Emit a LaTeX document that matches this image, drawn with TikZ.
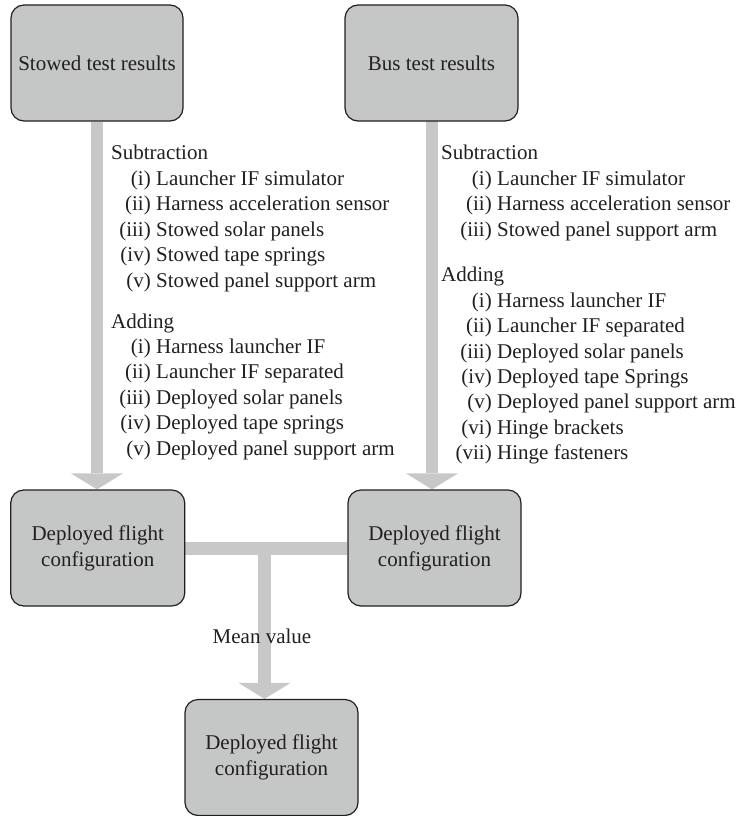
\documentclass[tikz,border=0pt]{standalone}
\usepackage{fontspec}
\setmainfont{Liberation Serif}
\usetikzlibrary{arrows.meta,backgrounds}
\definecolor{boxfill}{RGB}{197,199,198}
\definecolor{stemgray}{RGB}{200,200,200}
\definecolor{edgec}{RGB}{35,31,32}
\newcommand\litem[6]{%
  \node[lab] (#1l) at (#2,#4) {#5};
  \node[txt] (#1t) at (#3,#4) {#6};}
\begin{document}
\begin{tikzpicture}[x=1pt,y=-1pt,
  box/.style={draw=edgec, line width=1.2pt, fill=boxfill, rounded corners=13pt,
    minimum height=116pt, align=center, inner sep=0pt,
    font=\fontsize{21}{26}\selectfont, text=edgec},
  flow/.style={draw=stemgray, line width=12pt,
    -{Triangle[width=52pt,length=16pt,line width=0pt]}},
  txt/.style={inner sep=0pt, anchor=base west, font=\fontsize{21}{25}\selectfont, text=edgec},
  lab/.style={inner sep=0pt, anchor=base east, font=\fontsize{21}{25}\selectfont, text=edgec}]
\useasboundingbox (0,0) rectangle (741,816);

% boxes
\node[box, minimum width=172pt] (stowed) at (97,63) {Stowed test results};
\node[box, minimum width=173pt] (bus) at (431.5,63) {Bus test results};
\node[box, minimum width=174pt] (dep1) at (97.75,548) {Deployed flight\\configuration};
\node[box, minimum width=173pt] (dep2) at (434.5,548) {Deployed flight\\configuration};
\node[box, minimum width=173pt] (dep3) at (271.5,757.5) {Deployed flight\\configuration};

\coordinate (busdown) at (432,121);
\coordinate (j) at (264.5,548.5);

\begin{scope}[on background layer]
  \draw[flow] (stowed.south) -- (stowed.south |- dep1.north);
  \draw[flow] (busdown) -- (busdown |- dep2.north);
  \draw[draw=stemgray, line width=13pt] (dep1.east) -- (dep2.west);
  \draw[flow, line width=13pt] (j) -- (j |- dep3.north);
\end{scope}

\node[inner sep=0pt, anchor=base, font=\fontsize{21}{25}\selectfont, text=edgec] (mean) at (262,643) {Mean value};

% left list
\node[txt] (lsub) at (111,159) {Subtraction};
\litem{ls1}{151}{156}{185}{(i)}{Launcher IF simulator}
\litem{ls2}{151}{156}{210}{(ii)}{Harness acceleration sensor}
\litem{ls3}{151}{156}{236}{(iii)}{Stowed solar panels}
\litem{ls4}{151}{156}{261}{(iv)}{Stowed tape springs}
\litem{ls5}{151}{156}{287}{(v)}{Stowed panel support arm}
\node[txt] (ladd) at (111,328) {Adding};
\litem{la1}{151}{156}{353}{(i)}{Harness launcher IF}
\litem{la2}{151}{156}{378}{(ii)}{Launcher IF separated}
\litem{la3}{151}{156}{404}{(iii)}{Deployed solar panels}
\litem{la4}{151}{156}{429}{(iv)}{Deployed tape springs}
\litem{la5}{151}{156}{455}{(v)}{Deployed panel support arm}

% right list
\node[txt] (rsub) at (441,159) {Subtraction};
\litem{rs1}{492}{497}{185}{(i)}{Launcher IF simulator}
\litem{rs2}{492}{497}{210}{(ii)}{Harness acceleration sensor}
\litem{rs3}{492}{497}{236}{(iii)}{Stowed panel support arm}
\node[txt] (radd) at (441,281) {Adding};
\litem{ra1}{492}{497}{307}{(i)}{Harness launcher IF}
\litem{ra2}{492}{497}{332}{(ii)}{Launcher IF separated}
\litem{ra3}{492}{497}{358}{(iii)}{Deployed solar panels}
\litem{ra4}{492}{497}{383}{(iv)}{Deployed tape Springs}
\litem{ra5}{492}{497}{408}{(v)}{Deployed panel support arm}
\litem{ra6}{492}{497}{434}{(vi)}{Hinge brackets}
\litem{ra7}{492}{497}{459}{(vii)}{Hinge fasteners}
\end{tikzpicture}
\end{document}
